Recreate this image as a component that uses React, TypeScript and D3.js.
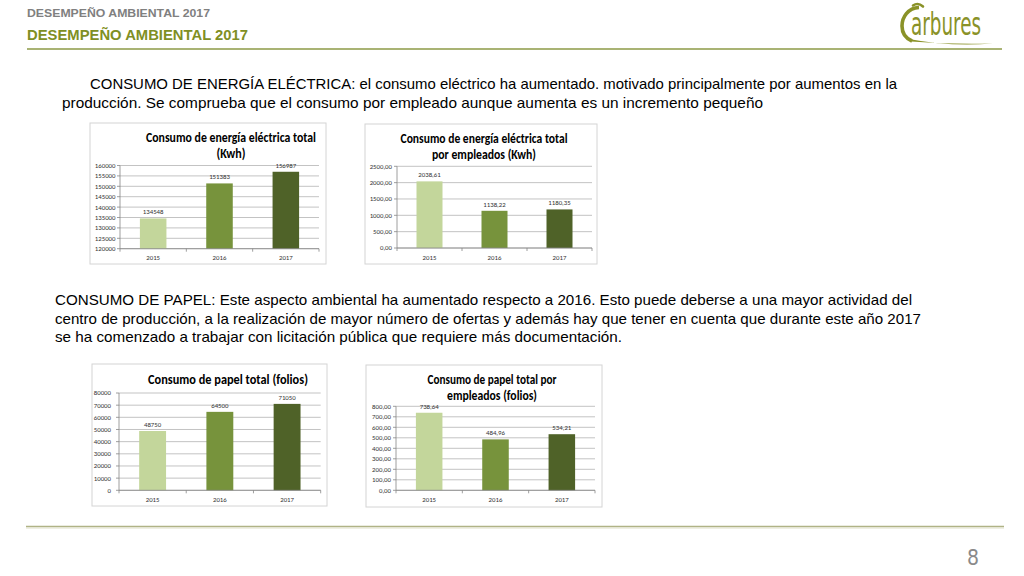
import React from "react";
import * as d3 from "d3";

const years = ["2015", "2016", "2017"];
const elecTotal = [134548, 151383, 156987];
const elecPerEmployee = [2038.61, 1138.22, 1180.35];
const paperTotal = [48750, 64500, 71050];
const paperPerEmployee = [738.64, 484.96, 534.21];

const elecTotalAxis = { min: 120000, max: 160000, step: 5000 };
const elecPerEmpAxis = { min: 0, max: 2500, step: 500 };
const paperTotalAxis = { min: 0, max: 80000, step: 10000 };
const paperPerEmpAxis = { min: 0, max: 800, step: 100 };

const barColors = ["#c3d69b", "#77933c", "#4f6228"];

const headerSmall = "DESEMPEÑO AMBIENTAL 2017";
const headerTitle = "DESEMPEÑO AMBIENTAL 2017";
const para1 = [
  "CONSUMO DE ENERGÍA ELÉCTRICA: el consumo eléctrico ha aumentado. motivado principalmente por aumentos en la",
  "producción. Se comprueba que el consumo por empleado aunque aumenta es un incremento pequeño",
];
const para2 = [
  "CONSUMO DE PAPEL: Este aspecto ambiental ha aumentado respecto a 2016. Esto puede deberse a una mayor actividad del",
  "centro de producción, a la realización de mayor número de ofertas y además hay que tener en cuenta que durante este año 2017",
  "se ha comenzado a trabajar con licitación pública que requiere más documentación.",
];

const chartTitles = [
  ["Consumo de energía eléctrica total", "(Kwh)"],
  ["Consumo de energía eléctrica total", "por empleados (Kwh)"],
  ["Consumo de papel total (folios)"],
  ["Consumo de papel total por", "empleados (folios)"],
];

const intFmt = (v: number) => d3.format("d")(v);
const decFmt = (v: number) => d3.format(".2f")(v).replace(".", ",");

const CHART_FONT = "Carlito, Lato, 'Noto Sans', sans-serif";

type ChartProps = {
  frame: { x: number; y: number; w: number; h: number };
  plot: { l: number; r: number; t: number; b: number };
  axis: { min: number; max: number; step: number };
  values: number[];
  fmt: (v: number) => string;
  titles: string[];
  titleCx: number;
  titleYs: number[];
  titleLens: number[];
  labelRightGap: number;
  xLabelY: number;
};

function BarChart(p: ChartProps) {
  const y = d3.scaleLinear().domain([p.axis.min, p.axis.max]).range([p.plot.b, p.plot.t]);
  const x = d3
    .scaleBand<string>()
    .domain(years)
    .range([p.plot.l, p.plot.r])
    .paddingInner(0.6)
    .paddingOuter(0.3);
  const ticks = d3.range(p.axis.min, p.axis.max + p.axis.step / 2, p.axis.step);
  const step = (p.plot.r - p.plot.l) / years.length;
  return (
    <g>
      <rect
        x={p.frame.x}
        y={p.frame.y}
        width={p.frame.w}
        height={p.frame.h}
        fill="#ffffff"
        stroke="#d4d4d4"
        strokeWidth={1}
      />
      {p.titles.map((t, i) => (
        <text
          key={i}
          x={p.titleCx}
          y={p.titleYs[i]}
          textAnchor="middle"
          fontFamily={CHART_FONT}
          fontWeight="bold"
          fontSize={13}
          fill="#000"
          textLength={p.titleLens[i]}
          lengthAdjust="spacingAndGlyphs"
        >
          {t}
        </text>
      ))}
      {ticks.map((t, i) => (
        <g key={i}>
          <line x1={p.plot.l} x2={p.plot.r} y1={y(t)} y2={y(t)} stroke="#b4b4b4" strokeWidth={0.8} />
          <line x1={p.plot.l - 3} x2={p.plot.l} y1={y(t)} y2={y(t)} stroke="#868686" strokeWidth={0.8} />
          <text
            x={p.plot.l - p.labelRightGap}
            y={y(t) + 2.4}
            textAnchor="end"
            fontFamily={CHART_FONT}
            fontSize={6.8}
            fill="#333"
          >
            {p.fmt(t)}
          </text>
        </g>
      ))}
      {years.map((yr, i) => (
        <g key={yr}>
          <rect
            x={x(yr)}
            y={y(p.values[i])}
            width={x.bandwidth()}
            height={p.plot.b - y(p.values[i])}
            fill={barColors[i]}
          />
          <text
            x={(x(yr) as number) + x.bandwidth() / 2}
            y={y(p.values[i]) - 4}
            textAnchor="middle"
            fontFamily={CHART_FONT}
            fontSize={6.8}
            fill="#333"
          >
            {p.fmt(p.values[i])}
          </text>
          <text
            x={(x(yr) as number) + x.bandwidth() / 2}
            y={p.xLabelY}
            textAnchor="middle"
            fontFamily={CHART_FONT}
            fontSize={6.8}
            fill="#333"
          >
            {yr}
          </text>
        </g>
      ))}
      <line x1={p.plot.l} x2={p.plot.l} y1={p.plot.t} y2={p.plot.b} stroke="#868686" strokeWidth={0.8} />
      <line x1={p.plot.l} x2={p.plot.r} y1={p.plot.b} y2={p.plot.b} stroke="#868686" strokeWidth={0.8} />
      {d3.range(years.length + 1).map((i) => (
        <line
          key={i}
          x1={p.plot.l + i * step}
          x2={p.plot.l + i * step}
          y1={p.plot.b}
          y2={p.plot.b + 3}
          stroke="#868686"
          strokeWidth={0.8}
        />
      ))}
    </g>
  );
}

export default function App() {
  const body = "'Liberation Sans', Arial, sans-serif";
  return (
    <svg
      width={1024}
      height={576}
      viewBox="0 0 1024 576"
      style={{ position: "absolute", left: 0, top: 0, background: "#fff" }}
    >
      <rect x={0} y={0} width={1024} height={576} fill="#fff" />
      {/* header */}
      <text
        x={27}
        y={16.6}
        fontFamily={body}
        fontWeight="bold"
        fontSize={10.5}
        fill="#808080"
        textLength={183}
        lengthAdjust="spacingAndGlyphs"
      >
        {headerSmall}
      </text>
      <text
        x={27}
        y={39.5}
        fontFamily={body}
        fontWeight="bold"
        fontSize={15}
        fill="#7f8f24"
        textLength={221}
        lengthAdjust="spacingAndGlyphs"
      >
        {headerTitle}
      </text>
      <line x1={27} x2={1002} y1={49} y2={49} stroke="#8d9a46" strokeWidth={1.6} />
      {/* logo */}
      <g fill="none" stroke="#8a9228">
        <path d="M 913 5.5 Q 918 2 923 6.5" strokeWidth={2.6} strokeLinecap="round" />
        <path d="M 919 7.5 C 908 8, 902 17, 902 26 C 902 33, 905 38, 912 41" strokeWidth={3.6} />
      </g>
      <path d="M 909 39 Q 950 47 993 43.5 Q 950 44.5 911 41.5 Z" fill="#8a9228" />
      <text
        x={911}
        y={35}
        fontFamily="'Liberation Sans Narrow', 'DejaVu Sans Condensed', sans-serif"
        fontSize={32}
        fill="#8a9228"
        textLength={70}
        lengthAdjust="spacingAndGlyphs"
      >
        arbures
      </text>
      {/* paragraph 1 */}
      <text x={90} y={89} fontFamily={body} fontSize={14.6} fill="#000" textLength={807} lengthAdjust="spacingAndGlyphs">
        {para1[0]}
      </text>
      <text x={62} y={108} fontFamily={body} fontSize={14.6} fill="#000" textLength={701} lengthAdjust="spacingAndGlyphs">
        {para1[1]}
      </text>
      {/* paragraph 2 */}
      <text x={55} y={305} fontFamily={body} fontSize={14.6} fill="#000" textLength={857} lengthAdjust="spacingAndGlyphs">
        {para2[0]}
      </text>
      <text x={55} y={323.5} fontFamily={body} fontSize={14.6} fill="#000" textLength={866} lengthAdjust="spacingAndGlyphs">
        {para2[1]}
      </text>
      <text x={55} y={342} fontFamily={body} fontSize={14.6} fill="#000" textLength={567} lengthAdjust="spacingAndGlyphs">
        {para2[2]}
      </text>

      <BarChart
        frame={{ x: 90, y: 123, w: 236, h: 141 }}
        plot={{ l: 120, r: 319, t: 165.5, b: 248.7 }}
        axis={elecTotalAxis}
        values={elecTotal}
        fmt={intFmt}
        titles={chartTitles[0]}
        titleCx={231}
        titleYs={[141.5, 157.5]}
        titleLens={[170, 29]}
        labelRightGap={4.5}
        xLabelY={259.5}
      />
      <BarChart
        frame={{ x: 365, y: 124, w: 232, h: 140 }}
        plot={{ l: 397, r: 592, t: 166.3, b: 248 }}
        axis={elecPerEmpAxis}
        values={elecPerEmployee}
        fmt={decFmt}
        titles={chartTitles[1]}
        titleCx={484}
        titleYs={[143, 158.5]}
        titleLens={[167, 104]}
        labelRightGap={5}
        xLabelY={259.5}
      />
      <BarChart
        frame={{ x: 92, y: 364, w: 235, h: 142 }}
        plot={{ l: 119, r: 320.7, t: 393, b: 490.3 }}
        axis={paperTotalAxis}
        values={paperTotal}
        fmt={intFmt}
        titles={chartTitles[2]}
        titleCx={228}
        titleYs={[384]}
        titleLens={[160]}
        labelRightGap={8}
        xLabelY={502}
      />
      <BarChart
        frame={{ x: 366, y: 365, w: 236, h: 142 }}
        plot={{ l: 396, r: 595, t: 406.3, b: 490.3 }}
        axis={paperPerEmpAxis}
        values={paperPerEmployee}
        fmt={decFmt}
        titles={chartTitles[3]}
        titleCx={492}
        titleYs={[384, 399.5]}
        titleLens={[129, 90]}
        labelRightGap={5}
        xLabelY={502}
      />

      {/* footer */}
      <line x1={26} x2={1004} y1={526.5} y2={526.5} stroke="#b0b386" strokeWidth={1.5} />
      <line x1={26} x2={1004} y1={528} y2={528} stroke="#dfe0c8" strokeWidth={1} />
      <text x={973} y={565} textAnchor="middle" fontFamily="'Liberation Sans Narrow', 'DejaVu Sans Condensed', sans-serif" fontSize={21} fill="#8a8a8a">
        8
      </text>
    </svg>
  );
}
